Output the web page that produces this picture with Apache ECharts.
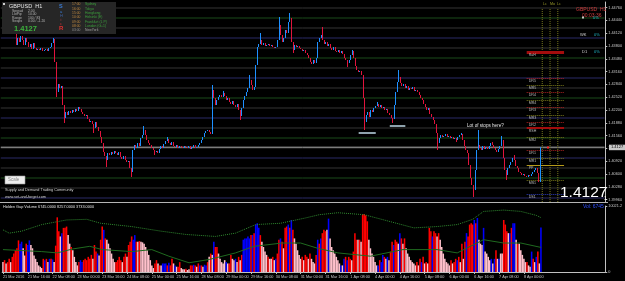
<!DOCTYPE html>
<html><head><meta charset="utf-8">
<script src="https://cdn.jsdelivr.net/npm/echarts@6.0.0/dist/echarts.min.js"></script>
<style>html,body{margin:0;padding:0;background:#000;}#chart{width:625px;height:281px;}</style>
</head><body><div id="chart"></div>
<script>
// ---- hourly closes (GBPUSD H1), one array per trading day ----
const closesMar21=[1.4420,1.4425,1.44175,1.44275,1.44225,1.4415,1.4420,1.44125,1.44175,1.4410,1.43825,1.4400,1.4390,1.4405,1.4395,1.43825,1.4400,1.4390,1.43775,1.4385,1.43725,1.43875,1.4375,1.4370];
const closesMar22=[1.43725,1.4370,1.4375,1.43675,1.4370,1.43725,1.43675,1.4375,1.43775,1.43875,1.43975,1.4340,1.4265,1.4285,1.4275,1.4280,1.42325,1.4200,1.4215,1.42075,1.42175,1.42125,1.4220,1.4215];
const closesMar23=[1.42225,1.42175,1.42275,1.42225,1.4215,1.4210,1.4205,1.42075,1.41975,1.4190,1.41925,1.4185,1.4175,1.4190,1.41775,1.41675,1.41525,1.41375,1.4115,1.4105,1.4095,1.41125,1.41075,1.4115];
const closesMar24=[1.4110,1.41175,1.41125,1.41075,1.4115,1.41025,1.40975,1.4105,1.4095,1.4090,1.40925,1.4075,1.4065,1.4120,1.41325,1.4125,1.41375,1.4130,1.4150,1.41575,1.4170,1.41575,1.4145,1.41375];
const closesMar25=[1.41325,1.4125,1.4120,1.4115,1.41175,1.41125,1.41225,1.4130,1.4125,1.4135,1.41425,1.41475,1.41375,1.41325,1.4140,1.4130,1.41275,1.41325,1.4125,1.4130,1.41275,1.4125,1.4130,1.41275];
const closesMar28=[1.4125,1.4130,1.41225,1.41275,1.41325,1.4125,1.41275,1.41325,1.41375,1.4145,1.41525,1.41625,1.41675,1.4170,1.4165,1.4160,1.4270,1.4250,1.42325,1.4245,1.42525,1.42575,1.42525,1.42625];
const closesMar29=[1.4255,1.4245,1.4250,1.4240,1.4235,1.42425,1.42325,1.42275,1.4235,1.4220,1.4205,1.4225,1.4245,1.4255,1.4265,1.4275,1.4295,1.42825,1.4270,1.42775,1.43325,1.43775,1.4385,1.4395];
const closesMar30=[1.43825,1.43875,1.4380,1.43825,1.4385,1.4380,1.43825,1.43775,1.4375,1.43775,1.4395,1.44325,1.44075,1.4390,1.4400,1.4420,1.44125,1.4440,1.4450,1.4390,1.4370,1.43825,1.43775,1.4380];
const closesMar31=[1.4375,1.43725,1.43675,1.4370,1.43625,1.43575,1.4350,1.4340,1.4335,1.4345,1.43375,1.4350,1.4390,1.4400,1.44075,1.4395,1.4385,1.4390,1.4380,1.4385,1.4375,1.4370,1.43775,1.43675];
const closesApr1=[1.4365,1.4370,1.43625,1.43675,1.4360,1.4350,1.4345,1.43375,1.4345,1.43575,1.43675,1.4350,1.4330,1.4320,1.4315,1.43175,1.43075,1.4250,1.4190,1.42075,1.4215,1.42025,1.4220,1.4215];
const closesApr4=[1.4225,1.4230,1.4235,1.42275,1.42325,1.4225,1.42275,1.4220,1.42225,1.42125,1.42075,1.4200,1.41975,1.42325,1.4265,1.4290,1.43025,1.42875,1.4280,1.4285,1.4275,1.4280,1.4270,1.4275];
const closesApr5=[1.42725,1.42775,1.42675,1.4270,1.4265,1.42575,1.4250,1.4245,1.4235,1.42275,1.4220,1.4225,1.4210,1.42025,1.4195,1.4185,1.41625,1.41375,1.4150,1.41575,1.41525,1.4155,1.4160,1.41525];
const closesApr6=[1.4155,1.4150,1.41525,1.41475,1.4150,1.4145,1.41525,1.41575,1.4160,1.4145,1.4130,1.4120,1.41125,1.40825,1.4050,1.40325,1.4020,1.4070,1.4120,1.41325,1.4125,1.4120,1.4130,1.41225];
const closesApr7=[1.41275,1.41225,1.4130,1.41375,1.41325,1.4125,1.4120,1.4115,1.41225,1.4130,1.4145,1.4100,1.4070,1.40575,1.4075,1.40825,1.4090,1.4100,1.4095,1.4080,1.4075,1.4065,1.40625,1.40575];
const closesApr8=[1.4060,1.4055,1.40525,1.40575,1.4055,1.4060,1.4065,1.4070,1.4075,1.40625,1.4045,1.4127];

// wick extremes [bar index, price]
const wickHighs=[[34,1.4400],[92,1.4180],[107,1.41525],[136,1.42825],[143,1.42675],[160,1.43075],[167,1.44125],[179,1.44525],[186,1.44625],[207,1.44275],[226,1.4370],[242,1.4240],[256,1.4320],[296,1.41625],[307,1.4170],[316,1.4140],[322,1.4155],[330,1.41075]];
const wickLows=[[36,1.42525],[41,1.41875],[60,1.41625],[68,1.40775],[84,1.40525],[99,1.41075],[154,1.4195],[188,1.43625],[223,1.43275],[234,1.4170],[252,1.41875],[281,1.4120],[293,1.4140],[304,1.40025],[325,1.4045],[346,1.4040],[347,1.4040]];

// ---- Hidden Gap Volume, per day; colour codes r=red b=blue p=pink ----
const volMar21=[1500,1800,1300,1500,2000,1500,2300,2800,3300,3600,4800,4300,4600,3600,2500,4300,4100,4800,4100,3600,2500,2000,1500,1000];
const volMar22=[800,600,2000,1800,2000,1500,2000,2000,1900,1500,4000,8300,6200,5400,5900,6700,6700,6900,5600,4300,3800,3300,2300,1500];
const volMar23=[1000,1500,1800,1500,1800,2000,1800,2300,2000,2600,2000,4100,3100,2800,2500,4900,6900,6400,5100,4900,4300,3600,2800,2000];
const volMar24=[1500,1500,1800,2300,1800,1500,2300,2800,2300,4100,4600,5400,4900,5600,4600,4600,4700,4600,4500,4300,3800,3300,2600,1800];
const volMar25=[1000,600,1300,1800,1300,1000,1000,1300,1300,1300,1000,1400,1000,2000,1300,1000,800,800,1500,600,400,400,500,300];
const volMar28=[400,1000,1000,1100,1000,800,1300,1000,1000,800,1100,1000,1500,2300,2800,2600,4600,3800,3800,2800,2000,1500,1300,1800];
const volMar29=[1500,1300,1300,2600,2000,1800,2000,1500,2300,1800,2600,4900,5100,5100,5400,5100,5600,5600,5900,7200,7400,6700,5600,4600];
const volMar30=[3800,3100,2600,2300,2000,2000,2300,1800,2000,2800,4900,5100,4600,3600,6700,6900,7200,6700,7900,6400,5100,4300,3300,2600];
const volMar31=[2000,2300,1800,2600,2300,2000,2800,2000,1500,1300,2600,4900,4300,5100,5900,6400,6200,6400,8100,5100,3800,3300,2800,2300];
const volApr1=[1800,1300,1000,1000,2000,2300,1800,2300,2000,1800,3100,5900,4900,4900,4900,4600,8700,8800,8600,7700,4900,3600,2800,2300];
const volApr4=[1500,1000,1000,1800,1500,2600,2300,2000,2300,1800,3100,4600,4100,4900,4600,4300,5900,5100,4300,5100,3600,2800,2300,1800];
const volApr5=[1500,1300,1000,1500,1000,2000,1500,2300,1300,1500,1300,6700,6200,5400,6200,5900,5400,5900,4900,3800,2800,2000,1500,1300];
const volApr6=[1000,1800,1300,1500,2000,1800,2300,1500,4300,2000,4600,5900,5400,7200,7400,7200,7900,7400,8200,4900,4300,4100,6700,3100];
const volApr7=[2800,2300,1800,2000,1300,2000,3300,2000,2000,2800,2800,7900,7200,6200,5900,5900,6700,7400,7400,4900,4300,4300,3300,2600];
const volApr8=[2000,1500,1500,1000,800,3100,2000,1500,2300,3100,1300,6745];
const volColorCodes=[
 'prprrprrrrrbbpprbbpppppp','pprbrpbrbprrrpbrrrpprppp','prbbrrrrrrprrbprrbrppppp',
 'prrrrprrprrrbbrprppppppp','pprrprpbbbrbrrpbprrppprp','prrbrprbrpbbrprpbrrppppp',
 'bprrppbprprbbbbbrbrbbbrp','ppprpprpbrrbrprrbrbrpppp','prprrprppprbrbrrrpbppppp',
 'ppbpbrbrrprrrprprrrrpppp','ppbrbbrpbprrbrrpbrprpppp','ppprprbrprprrbrrprpppppp',
 'prprrbrprprbrrrrbrbpppbp','pppbpbrpbpprrrpbrbbprppp','pprppbrpbrpb'
].join('');

// volume averages read at points [bar index, value]
const volAvgSlow=[[0,6400],[4,5900],[12,6200],[25,7200],[41,7900],[54,8000],[63,7400],[83,6900],[102,6200],[118,5700],[137,5400],[150,5900],[163,7200],[179,7400],[195,8200],[204,8700],[216,9000],[233,8700],[249,7700],[265,6700],[280,6900],[293,7200],[303,8000],[310,9200],[323,9400],[334,9200],[344,8600],[347,8257]];
const volAvgFast=[[0,3400],[25,3100],[35,2900],[45,3500],[56,3900],[64,3400],[83,3100],[96,3400],[107,2400],[120,1400],[133,1900],[150,2900],[162,3900],[180,4400],[192,4400],[203,3600],[216,2900],[237,2400],[258,3400],[280,3400],[293,2900],[310,4900],[323,4400],[334,4400],[347,3733]];

// ---- axis ticks & level lines ----
const priceTicks=[1.39960,1.40280,1.40600,1.40920,1.41240,1.41560,1.41880,1.42200,1.42520,1.42840,1.43160,1.43480,1.43800,1.44120,1.44440,1.44760];
const volTicks=[0,10021.2];
const levels100=[1.4000,1.4100,1.4200,1.4300,1.4400];
const levels50=[1.4050,1.4150,1.4250,1.4350,1.4450];
const levels25=[1.4025,1.4075,1.4125,1.4175,1.4225,1.4275,1.4325,1.4375,1.4425,1.4475];
const bidPrice=1.4127;
const pivotNames=['RaH','DR5','MR5','DR4','MR4','DR3','MR3','DR2','RSH','MR2','DR1','MR1','PP','MS1','DS1'];
const pivotValues=[1.4365,1.4300,1.42825,1.4265,1.4245,1.42275,1.42075,1.4190,1.4175,1.41525,1.4120,1.4100,1.40825,1.4045,1.4010];
const stopZones=[[230,241,1.41625],[250,260,1.4180]];
const sessionLineSlots=[348,353,358];
const sessionLineNames=['Lc','Mo','Lc'];

const dayNames=['21 Mar','22 Mar','23 Mar','24 Mar','25 Mar','28 Mar','29 Mar','30 Mar','31 Mar','1 Apr','4 Apr','5 Apr','6 Apr','7 Apr','8 Apr','11 Apr','12 Apr'];
const SLOTS=389;
const cats=[];
for(let i=0;i<SLOTS;i++){const d=dayNames[Math.floor(i/24)],h=i%24;cats.push(i===0?'21 Mar 2016':d+' '+String(h).padStart(2,'0')+':00');}

const closes=[].concat(closesMar21,closesMar22,closesMar23,closesMar24,closesMar25,closesMar28,closesMar29,closesMar30,closesMar31,closesApr1,closesApr4,closesApr5,closesApr6,closesApr7,closesApr8);
const NBARS=closes.length;
const vols=[].concat(volMar21,volMar22,volMar23,volMar24,volMar25,volMar28,volMar29,volMar30,volMar31,volApr1,volApr4,volApr5,volApr6,volApr7,volApr8);
const hiMap={},loMap={};
wickHighs.forEach(w=>hiMap[w[0]]=w[1]);wickLows.forEach(w=>loMap[w[0]]=w[1]);
const candles=closes.map((c,i)=>{const o=i?closes[i-1]:c;let h=Math.max(o,c),l=Math.min(o,c);if(hiMap[i]!==undefined)h=Math.max(h,hiMap[i]);if(loMap[i]!==undefined)l=Math.min(l,loMap[i]);return [o,c,l,h];});
const colMap={r:'#ff0000',b:'#0000ff',p:'#ffc0cb'};
const volData=vols.map((v,i)=>({value:v,itemStyle:{color:colMap[volColorCodes[i]]}}));

const FONT='Liberation Sans';
const levelSeries=[];
function hLine(v,color,w,type,z){levelSeries.push({type:'line',xAxisIndex:0,yAxisIndex:0,data:[[0,v],[SLOTS-1,v]],showSymbol:false,silent:true,z:z||1,lineStyle:{color:color,width:w,type:type}});}
levels100.forEach(v=>hLine(v,'#2a2a66',1,'solid'));
levels50.forEach(v=>hLine(v,'#1a4a1a',1,'solid'));
levels25.forEach(v=>hLine(v,'#343434',1,'solid'));
hLine(bidPrice,'#a8a8a8',1,'solid',2);
sessionLineSlots.forEach(s=>levelSeries.push({type:'line',xAxisIndex:0,yAxisIndex:0,data:[[s,1.399],[s,1.4475]],showSymbol:false,silent:true,z:2,lineStyle:{color:'#76761e',width:1,type:'dotted'}}));

const ml=[];
pivotNames.forEach((n,k)=>{
  let st;
  if(n==='RaH'||n==='RSH') st={color:'#a30d0d',width:n==='RaH'?3:2,type:'solid'};
  else if(n==='PP') st={color:'#b59a1a',width:1,type:'solid'};
  else if(n==='DS1') st={color:'#3040c0',width:1,type:'dotted'};
  else if(n[0]==='D') st={color:'#b02020',width:1,type:'dotted'};
  else st={color:'#7a7a1a',width:1,type:'dotted'};
  ml.push([{coord:[338,pivotValues[k]],lineStyle:st,label:{show:true,position:'insideStartBottom',formatter:n,color:'#b8b8b8',fontSize:3.6,fontFamily:FONT,distance:[2,1]}},{coord:[362,pivotValues[k]]}]);
});
stopZones.forEach(z=>ml.push([{coord:[z[0],z[2]],lineStyle:{color:'#8fa3ad',width:2,type:'solid'}},{coord:[z[1],z[2]]}]));

function T(x,y,text,fill,size,extra){return {type:'text',x:x,y:y,z:100,silent:true,style:{text:text,fill:fill,font:(extra||'')+' '+size+'px "'+FONT+'"',textVerticalAlign:'top'}};}
const g=[];
g.push({type:'rect',shape:{x:2,y:2,width:114,height:32},style:{fill:'#262626'},z:90,silent:true});
g.push({type:'rect',shape:{x:3,y:3,width:2,height:2},style:{fill:'#d0d0d0'},z:100,silent:true});
g.push(T(9,3.5,'GBPUSD  H1','#e6e6e6',5.5));
[['Spread','2.00'],['LotPip','10.00'],['Range','100 / 83'],['Swaps','0.00 / -1.20']].forEach((r,k)=>{g.push(T(12,9.5+k*3.5,r[0],'#b4b4b4',3.4));g.push(T(28,9.5+k*3.5,r[1],'#b4b4b4',3.4));});
g.push(T(14,24.5,'1.4127','#3cb43c',7.5,'bold'));
g.push(T(59,3,'S','#3a7bd5',5.5,'bold'));g.push(T(60,9.5,'a','#3a7bd5',4));g.push(T(60,13.5,'H','#4060a0',4));
g.push(T(60.5,17.5,'i','#c04040',4));g.push(T(60,21.5,'c','#d03030',4));g.push(T(59,25.5,'R','#e03030',6,'bold'));
[['17:00','Sydney'],['16:00','Tokyo'],['15:00','Hongkong'],['10:00','Helsinki (E)'],['09:00','Frankfurt (L P)'],['08:00','London (G+1)'],['03:00','NewYork']].forEach((r,k)=>{
  const last=k===6;g.push(T(72,3+k*4.3,r[0],last?'#909090':'#c08a40',3.4));g.push(T(85,3+k*4.3,r[1],last?'#a0a0a0':'#3ca03c',3.4));});
[543,550,557].forEach((x,k)=>g.push(T(x,2,sessionLineNames[k],'#9a9a2a',3.6)));
g.push(T(576,7,'GBPUSD  H1','#d03c3c',5));g.push(T(582,13,'00:03:36','#d03c3c',5));
g.push({type:'rect',shape:{x:582,y:16.5,width:2,height:2},style:{fill:'#c8c8c8'},z:100,silent:true});
g.push(T(593,15.5,'0%','#1fb8c8',4));
g.push(T(580,33,'WK','#d0d0d0',4));g.push(T(594,33,'0%','#1fb8c8',4));
g.push(T(582,50,'D1','#d0d0d0',4));g.push(T(594,50,'0%','#1fb8c8',4));
g.push({type:'rect',shape:{x:5,y:176,width:20,height:8},style:{fill:'#eeeeee',stroke:'#9a9a9a',lineWidth:0.6},z:95,silent:true});
g.push(T(8,177.5,'Scale','#8a8a8a',4.5));
g.push(T(5,188,'Supply and Demand Trading Community','#d0d0d0',3.8));
g.push(T(5,195,'www.set-and-forget.com','#d0d0d0',3.8));
g.push(T(467,123.5,'Lot of stops here?','#e6e6e6',4.6));
g.push({type:'rect',shape:{x:609,y:144.7,width:16,height:5.5},style:{fill:'#c8c8c8'},z:100,silent:true});
g.push(T(611,145.2,'1.4127','#000000',4));
g.push({type:'rect',shape:{x:547,y:146.5,width:2,height:2},style:{fill:'#ff2020'},z:100,silent:true});
g.push(T(560,184.5,'1.4127','#ffffff',15.5));
g.push(T(604,195,'1','#ffffff',5.5));
g.push({type:'line',shape:{x1:0,y1:202.5,x2:608,y2:202.5},style:{stroke:'#b4b4b4',lineWidth:1},z:100,silent:true});
g.push(T(3,205,'Hidden Gap Volume 6745.0000 8257.0000 3733.0000','#e0e0e0',3.8));
g.push(T(583,204.5,'Vol: 6745','#3050ff',5));

const axisTxt={color:'#c8c8c8',fontSize:3.8,fontFamily:FONT};
const showSlot=(i)=>i%16===0&&i<NBARS;
const option={
  backgroundColor:'#000000',animation:false,
  grid:[{left:0,right:17,top:2,height:200},{left:0,right:17,top:206,height:66}],
  xAxis:[
    {type:'category',gridIndex:0,data:cats,boundaryGap:true,axisLine:{show:false},axisTick:{show:false},axisLabel:{show:false},splitLine:{show:false}},
    {type:'category',gridIndex:1,data:cats,boundaryGap:true,axisLine:{lineStyle:{color:'#c0c0c0',width:1}},
     axisTick:{show:true,interval:showSlot,alignWithLabel:true,length:2,lineStyle:{color:'#c0c0c0'}},
     axisLabel:Object.assign({interval:showSlot,align:'left',margin:2.5},axisTxt),splitLine:{show:false}}
  ],
  yAxis:[
    {type:'value',gridIndex:0,position:'right',min:1.399,max:1.449,scale:true,
     axisLine:{show:true,lineStyle:{color:'#c0c0c0'}},axisTick:{show:true,length:2,customValues:priceTicks,lineStyle:{color:'#c0c0c0'}},
     axisLabel:Object.assign({customValues:priceTicks,margin:3,formatter:v=>v.toFixed(5)},axisTxt),splitLine:{show:false}},
    {type:'value',gridIndex:1,position:'right',min:0,max:10021.2,
     axisLine:{show:true,lineStyle:{color:'#c0c0c0'}},axisTick:{show:true,length:2,customValues:volTicks,lineStyle:{color:'#c0c0c0'}},
     axisLabel:Object.assign({customValues:volTicks,margin:3,formatter:v=>v===0?'0':v.toFixed(1)},axisTxt),splitLine:{show:false}}
  ],
  series:levelSeries.concat([
    {type:'candlestick',xAxisIndex:0,yAxisIndex:0,data:candles,barWidth:1.2,z:5,
     itemStyle:{color:'#1e90ff',color0:'#e0143c',borderColor:'#1e90ff',borderColor0:'#e0143c',borderWidth:1},
     markLine:{silent:true,symbol:['none','none'],label:{show:false},data:ml}},
    {type:'bar',xAxisIndex:1,yAxisIndex:1,data:volData,barWidth:'100%',barCategoryGap:'0%',z:2},
    {type:'line',xAxisIndex:1,yAxisIndex:1,data:volAvgSlow,showSymbol:false,z:4,lineStyle:{color:'#2f8a2f',width:1,type:'dotted'}},
    {type:'line',xAxisIndex:1,yAxisIndex:1,data:volAvgFast,showSymbol:false,z:4,lineStyle:{color:'#1f6a1f',width:1,type:'solid'}}
  ]),
  graphic:g
};
const chart=echarts.init(document.getElementById('chart'),null,{renderer:'canvas'});
chart.setOption(option);
</script></body></html>
